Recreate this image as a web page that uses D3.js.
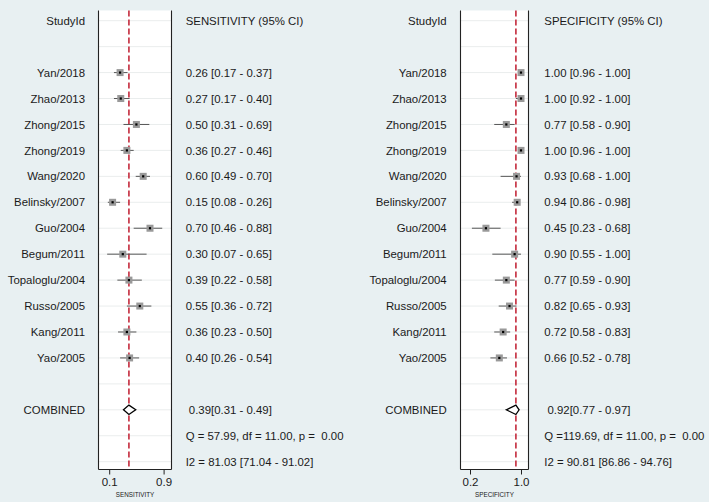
<!DOCTYPE html>
<html>
<head>
<meta charset="utf-8">
<script src="https://cdn.jsdelivr.net/npm/d3@7"></script>
<style>
  html, body { margin: 0; padding: 0; background: #e8f0f2; }
  svg { display: block; }
  text { font-family: "Liberation Sans", Arial, sans-serif; fill: #1a1a1a; white-space: pre; }
</style>
</head>
<body>
<svg id="chart" width="709" height="502"></svg>
<script>
// ---------- DATA ----------
const studies = ["Yan/2018","Zhao/2013","Zhong/2015","Zhong/2019","Wang/2020","Belinsky/2007",
  "Guo/2004","Begum/2011","Topaloglu/2004","Russo/2005","Kang/2011","Yao/2005"];
const sens   = [0.26,0.27,0.50,0.36,0.60,0.15,0.70,0.30,0.39,0.55,0.36,0.40];
const sensLo = [0.17,0.17,0.31,0.27,0.49,0.08,0.46,0.07,0.22,0.36,0.23,0.26];
const sensHi = [0.37,0.40,0.69,0.46,0.70,0.26,0.88,0.65,0.58,0.72,0.50,0.54];
const spec   = [1.00,1.00,0.77,1.00,0.93,0.94,0.45,0.90,0.77,0.82,0.72,0.66];
const specLo = [0.96,0.92,0.58,0.96,0.68,0.86,0.23,0.55,0.59,0.65,0.58,0.52];
const specHi = [1.00,1.00,0.90,1.00,1.00,0.98,0.68,1.00,0.90,0.93,0.83,0.78];
const sensCombined = [0.39, 0.31, 0.49];
const specCombined = [0.92, 0.77, 0.97];
const sensQ = [57.99, 11.00, 0.00];
const specQ = [119.69, 11.00, 0.00];
const sensI2 = [81.03, 71.04, 91.02];
const specI2 = [90.81, 86.86, 94.76];
const sensTicks = [0.1, 0.9];
const specTicks = [0.2, 1.0];

// ---------- LAYOUT ----------
const svg = d3.select("#chart");
const f2 = d3.format(".2f");
const nRows = 18;
const y = d3.scalePoint().domain(d3.range(nRows)).range([20.7, 461.7]);
const panelTop = 10.5, axisY = 469.5;
const fs = 11.4;

function ciText(v, lo, hi) { return f2(v) + " [" + f2(lo) + " - " + f2(hi) + "]"; }

function drawPanel(cfg) {
  const g = svg.append("g");
  const x = d3.scaleLinear().domain(cfg.tickVals).range(cfg.tickPx);
  // panel background
  g.append("rect").attr("x", cfg.left).attr("y", panelTop)
    .attr("width", cfg.right - cfg.left).attr("height", axisY - panelTop)
    .attr("fill", "#ffffff");
  // grid lines
  g.selectAll("line.grid").data(d3.range(nRows)).join("line")
    .attr("x1", cfg.left).attr("x2", cfg.right)
    .attr("y1", d => y(d)).attr("y2", d => y(d))
    .attr("stroke", "#eaeded").attr("stroke-width", 1);
  // left/right borders
  [cfg.left, cfg.right].forEach(px => {
    g.append("line").attr("x1", px).attr("x2", px).attr("y1", panelTop).attr("y2", axisY)
      .attr("stroke", "#222").attr("stroke-width", 1.1);
  });
  // x axis
  const axis = d3.axisBottom(x).tickValues(cfg.tickVals).tickFormat(d3.format(".1f")).tickSize(5).tickPadding(3);
  const ag = g.append("g").attr("transform", `translate(0,${axisY})`).call(axis);
  ag.select(".domain").remove();
  ag.append("line").attr("x1", cfg.left).attr("x2", cfg.right).attr("y1", 0).attr("y2", 0)
    .attr("stroke", "#222").attr("stroke-width", 1.1);
  ag.selectAll(".tick line").attr("stroke", "#222");
  ag.selectAll(".tick text").attr("font-size", 11.5).attr("fill", "#1a1a1a")
    .style("font-family", "'Liberation Sans', Arial, sans-serif");
  g.append("text").attr("x", (cfg.left + cfg.right) / 2).attr("y", 497)
    .attr("text-anchor", "middle").attr("font-size", 6.3).text(cfg.axisLabel);

  // red dashed combined line
  g.append("line").attr("x1", x(cfg.comb[0])).attr("x2", x(cfg.comb[0]))
    .attr("y1", panelTop).attr("y2", axisY)
    .attr("stroke", "#c42a3c").attr("stroke-width", 1.6).attr("stroke-dasharray", "6,3");

  // CI lines
  const rows = studies.map((s, i) => ({ s, v: cfg.v[i], lo: cfg.lo[i], hi: cfg.hi[i], r: i + 2 }));
  g.selectAll("line.ci").data(rows).join("line")
    .attr("x1", d => x(d.lo)).attr("x2", d => x(d.hi))
    .attr("y1", d => y(d.r)).attr("y2", d => y(d.r))
    .attr("stroke", "#555").attr("stroke-width", 1);
  const sq = 7;
  g.selectAll("rect.sq").data(rows).join("rect")
    .attr("x", d => x(d.v) - sq / 2).attr("y", d => y(d.r) - sq / 2)
    .attr("width", sq).attr("height", sq).attr("fill", "#999");
  g.selectAll("rect.dot").data(rows).join("rect")
    .attr("x", d => x(d.v) - 1.1).attr("y", d => y(d.r) - 1.1)
    .attr("width", 2.2).attr("height", 2.2).attr("fill", "#000");

  // diamond
  const cy = y(15), h = 4.7;
  const c = cfg.comb;
  g.append("path")
    .attr("d", `M${x(c[1])},${cy} L${x(c[0])},${cy - h} L${x(c[2])},${cy} L${x(c[0])},${cy + h} Z`)
    .attr("fill", "#fff").attr("stroke", "#000").attr("stroke-width", 1.3);

  // left labels
  const lab = g.append("g").attr("font-size", fs).attr("text-anchor", "end");
  lab.append("text").attr("x", cfg.nameX).attr("y", y(0)).attr("dy", "0.36em").text("StudyId");
  lab.selectAll("text.n").data(rows).join("text").attr("class", "n")
    .attr("x", cfg.nameX).attr("y", d => y(d.r)).attr("dy", "0.36em").text(d => d.s);
  lab.append("text").attr("x", cfg.nameX).attr("y", y(15)).attr("dy", "0.36em").text("COMBINED");

  // right labels
  const rt = g.append("g").attr("font-size", fs);
  rt.append("text").attr("x", cfg.valX).attr("y", y(0)).attr("dy", "0.36em").text(cfg.header);
  rt.selectAll("text.v").data(rows).join("text").attr("class", "v")
    .attr("x", cfg.valX).attr("y", d => y(d.r)).attr("dy", "0.36em")
    .text(d => ciText(d.v, d.lo, d.hi));
  rt.append("text").attr("x", cfg.valX).attr("y", y(15)).attr("dy", "0.36em")
    .text(" " + f2(c[0]) + "[" + f2(c[1]) + " - " + f2(c[2]) + "]");
  rt.append("text").attr("x", cfg.valX).attr("y", y(16)).attr("dy", "0.36em")
    .text("Q =" + f2(cfg.q[0]).padStart(6, " ") + ", df = " + f2(cfg.q[1]) + ", p = " + f2(cfg.q[2]).padStart(5, " "));
  rt.append("text").attr("x", cfg.valX).attr("y", y(17)).attr("dy", "0.36em")
    .text("I2 = " + f2(cfg.i2[0]) + " [" + f2(cfg.i2[1]) + " - " + f2(cfg.i2[2]) + "]");
}

drawPanel({
  left: 98.5, right: 171.5, tickVals: sensTicks, tickPx: [109.2, 163.6],
  v: sens, lo: sensLo, hi: sensHi, comb: sensCombined, q: sensQ, i2: sensI2,
  nameX: 85, valX: 185.7, header: "SENSITIVITY (95% CI)", axisLabel: "SENSITIVITY"
});
drawPanel({
  left: 460.5, right: 528.5, tickVals: specTicks, tickPx: [470, 521],
  v: spec, lo: specLo, hi: specHi, comb: specCombined, q: specQ, i2: specI2,
  nameX: 446.7, valX: 544.3, header: "SPECIFICITY (95% CI)", axisLabel: "SPECIFICITY"
});
</script>
</body>
</html>
